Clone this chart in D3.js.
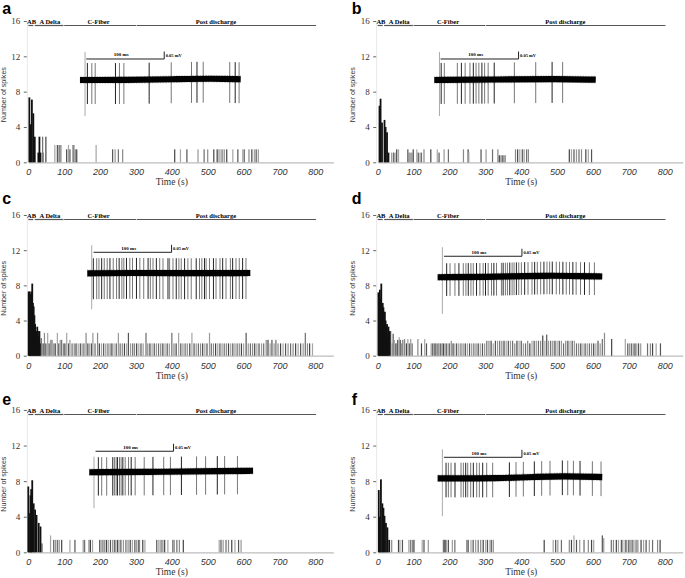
<!DOCTYPE html>
<html>
<head>
<meta charset="utf-8">
<script src="https://cdn.jsdelivr.net/npm/d3@7"></script>
<style>
  body { margin: 0; background: #fff; }
  svg { display: block; }
</style>
</head>
<body>
<svg id="chart" width="685" height="578"></svg>
<script>
// histogram axes
const xTicks = [0, 100, 200, 300, 400, 500, 600, 700, 800]
const yTicks = [0, 4, 8, 12, 16]

// fibre response windows (s)
const fiberNames = ['AB', 'A Delta', 'C-Fiber', 'Post discharge']
const fiberSpans = [[0, 14], [18, 98], [100, 300], [302, 802]]
const fiberLabelAt = [9, 60, 196, 523]

// spike counts per bin: [time s, spikes]
const barsA = [[3,7.35],[6,4.3],[10,7.1],[14,5.55],[18,2.9],[28,1.1],[31,2.9],[34,1.1],[40,2.9],[42,1.1],[49,2.9],
  [74,1.96],[81,1.96],[85,1.96],[88,1.96],[91,1.96],[107,1.47],[112,1.96],[116,1.47],[124,1.96],[127,1.96],[131,1.47],[135,1.47],
  [189,1.96],[235,1.47],[242,1.47],[251,1.47],[263,1.47],[408,1.47],[424,1.47],[442,1.47],[473,1.47],[490,1.47],[500,1.47],
  [517,1.47],[525,1.47],[528,1.47],[534,1.47],[540,1.47],[546,1.47],[553,1.47],[570,1.47],[584,1.47],[598,1.47],[602,1.47],
  [615,1.47],[623,1.47],[630,1.47],[635,1.47],[641,1.47]]

const barsB = [[5,6.4],[8,7.2],[12,4.5],[19,4.8],[22,4.0],[26,3.4],[30,1.1],[39,1.1],[44,1.1],[48,1.1],[53,1.47],[58,1.47],
  [84,1.47],[86,1.1],[90,1.1],[95,1.1],[99,1.47],[109,1.47],[113,1.1],[118,1.1],[122,1.1],[129,1.47],[148,1.47],[166,1.47],
  [171,1.1],[185,1.47],[197,1.47],[239,1.47],[252,1.47],[254,1.1],[288,1.47],[302,1.47],[320,1.47],[335,1.47],[339,0.8],
  [343,0.8],[347,0.8],[351,0.8],[355,0.8],[384,1.47],[390,1.47],[396,1.47],[403,1.47],[408,1.47],[415,1.47],[420,1.47],
  [534,1.47],[540,1.47],[547,1.47],[554,1.47],[561,1.47],[568,1.47],[580,1.47],[587,1.47],[596,1.47]]

const barsC = [[1,7.3],[2,6.8],[4,7.3],[6,7.0],[7,6.3],[9,7.3],[11,8.2],[13,6.0],[15,5.6],[17,4.6],[19,3.6],[21,2.6],[23,2.8],
  [25,3.3],[27,2.8],[29,2.2],[31,2.8],[33,1.4],[36,2.0],[39,1.4],[42,1.4],[45,2.6],[49,1.4],[54,2.6],[58,1.4],[62,1.8],[66,1.8],
  [71,1.4],[75,1.4],[81,2.6],[85,1.4],[89,1.8],[93,1.8],[98,1.4],[102,1.4],[107,2.6],[112,1.4],[116,1.8],[122,1.4],[128,1.4],
  [133,1.4],[139,1.4],[145,1.4],[150,1.4],[155,1.4],[161,2.6],[166,1.4],[171,1.4],[176,1.4],[180,2.6],[186,1.4],[193,2.6],
  [198,1.4],[204,1.4],[210,1.4],[216,1.4],[222,1.4],[228,1.4],[233,1.4],[239,1.4],[245,1.4],[251,2.6],[256,1.4],[262,1.4],
  [268,1.4],[274,1.4],[279,2.6],[285,1.4],[291,1.4],[296,1.4],[302,1.4],[308,1.4],[314,1.4],[320,1.4],[328,2.6],[333,1.4],
  [339,1.4],[345,1.4],[351,1.4],[357,1.4],[363,1.4],[369,1.4],[375,1.4],[381,1.4],[387,1.4],[393,1.4],[400,2.6],[406,1.4],
  [412,1.4],[419,2.6],[425,1.4],[431,1.4],[437,1.4],[443,1.4],[450,1.4],[456,2.6],[462,1.4],[468,1.4],[474,1.4],[480,1.4],
  [486,1.4],[492,1.4],[498,1.4],[505,2.6],[510,1.4],[516,1.4],[522,1.4],[528,1.4],[534,1.4],[540,1.4],[546,1.4],[552,1.4],
  [558,1.4],[564,1.4],[570,1.4],[576,1.4],[582,1.4],[588,1.4],[594,1.4],[600,1.4],[607,2.6],[613,1.4],[619,1.4],[625,1.4],
  [631,1.4],[637,1.4],[643,1.4],[650,1.4],[656,1.4],[663,1.8],[668,1.8],[674,1.4],[679,1.8],[685,1.4],[690,1.8],[696,1.4],
  [703,1.4],[710,1.4],[717,1.4],[724,1.4],[731,1.4],[738,1.4],[745,1.4],[752,1.4],[759,1.4],[766,1.4],[772,2.6],[778,1.4],
  [784,1.4],[792,1.4]]

const barsD = [[2,7.2],[4,6.8],[6,7.5],[8,6.5],[10,8.2],[12,5.0],[14,6.0],[16,5.5],[18,4.2],[20,5.0],[22,4.0],[24,3.3],
  [26,3.6],[28,2.4],[30,3.3],[33,2.8],[36,2.8],[40,1.4],[43,2.5],[46,1.8],[50,1.4],[53,1.4],[56,1.8],[60,2.1],[63,1.8],
  [66,1.4],[70,1.8],[75,1.9],[80,1.4],[84,1.9],[88,1.4],[92,1.9],[96,1.4],[112,1.9],[122,1.4],[131,1.9],[136,1.4],[149,1.4],
  [153,1.4],[157,1.4],[160,1.4],[164,1.4],[168,1.4],[171,1.4],[175,1.4],[179,1.4],[183,1.4],[187,1.4],[191,1.4],[196,1.4],
  [200,1.4],[205,1.7],[210,1.4],[215,1.4],[220,1.4],[226,1.4],[232,1.4],[238,1.4],[244,1.4],[250,1.4],[256,1.4],[262,1.4],
  [268,1.4],[274,1.4],[280,1.4],[286,1.4],[292,1.4],[298,1.4],[304,1.7],[310,1.7],[316,1.7],[322,1.4],[328,1.7],[334,1.7],
  [340,1.7],[346,1.7],[352,1.7],[358,1.7],[364,1.7],[370,1.7],[376,1.7],[382,1.4],[388,1.7],[394,1.7],[400,1.7],[406,1.4],
  [412,1.4],[418,1.7],[424,1.4],[430,1.7],[436,1.7],[442,1.7],[448,1.7],[454,1.7],[460,2.3],[466,1.7],[471,2.4],[476,1.7],
  [482,1.7],[488,1.7],[494,1.7],[500,1.7],[506,1.7],[512,1.7],[518,1.4],[524,1.7],[530,1.7],[536,1.7],[542,1.7],[548,1.7],
  [554,1.4],[560,1.4],[566,1.4],[572,1.4],[578,1.4],[584,1.4],[590,1.4],[596,1.4],[602,1.4],[608,1.4],[614,1.7],[620,1.4],
  [626,1.9],[632,2.6],[652,1.9],[690,1.9],[697,1.4],[702,1.4],[707,1.4],[712,1.4],[717,1.4],[722,1.4],[727,1.4],[733,1.4],
  [752,1.4],[760,1.4],[766,1.4],[776,1.4],[788,1.4]]

const barsE = [[0,7.4],[2,4.4],[6,6.4],[8,7.1],[11,8.1],[15,5.5],[19,4.8],[23,4.2],[29,3.3],[34,2.9],[38,1.0],[62,1.9],
  [71,1.4],[76,1.4],[81,1.4],[86,1.4],[93,1.4],[116,1.4],[130,1.4],[153,1.4],[157,1.4],[169,1.4],[173,1.4],[179,1.4],
  [199,1.4],[203,1.4],[208,1.4],[213,1.4],[218,1.4],[223,1.4],[229,1.4],[235,1.4],[240,1.4],[244,1.4],[249,1.4],[253,1.4],
  [258,1.4],[265,1.4],[272,1.4],[278,1.4],[284,1.4],[290,1.4],[297,1.4],[302,1.4],[307,1.4],[310,1.4],[319,1.4],[325,1.4],
  [358,1.4],[364,1.4],[370,1.4],[375,1.4],[380,1.4],[389,1.4],[403,1.4],[407,1.4],[414,1.4],[421,1.4],[432,1.4],
  [532,1.4],[537,1.4],[543,1.4],[551,1.4],[558,1.4],[567,1.4],[576,1.4],[586,1.4],[593,1.4]]

const barsF = [[3,7.0],[6,4.0],[9,8.2],[13,5.5],[16,5.0],[19,4.1],[23,3.3],[27,2.8],[32,1.4],[39,1.4],[58,1.4],[62,1.4],
  [69,1.4],[87,1.4],[92,1.4],[97,1.4],[101,1.4],[124,1.4],[129,1.4],[141,1.4],[183,1.4],[186,1.4],[188,1.4],[192,1.4],
  [197,1.4],[208,1.4],[215,1.4],[248,1.4],[252,1.4],[260,1.4],[266,1.4],[273,1.4],[280,1.4],[287,1.4],[294,1.4],[301,1.4],
  [306,1.4],[313,1.4],[317,1.4],[322,1.4],[464,1.4],[489,1.4],[496,1.4],[502,1.4],[512,1.4],[534,1.4],[540,1.4],[547,1.9],
  [554,1.4],[563,1.4],[575,1.4],[587,1.4],[596,1.4],[602,1.4],[626,1.9],[630,1.6],[651,1.4],[657,1.4],[665,1.4],[671,1.4],
  [679,1.4],[683,1.4],[690,1.4],[694,1.4],[700,1.4],[704,1.4],[709,1.4],[714,1.4],[720,1.4],[725,1.4],[734,1.4],[741,1.4],
  [748,1.4],[757,1.4],[766,1.4],[780,1.4],[787,1.4]]

// inset recordings: spike times (ms)
const spikesA = [6.5, 9.5, 15.2, 19.5, 45.5, 50.6, 56.3, 88.7, 117, 143, 150, 158, 192, 199, 204]
const spikesB = [6.6, 8.8, 12.8, 29.5, 34.7, 39.5, 45.7, 50, 53.5, 57.1, 61, 64.5, 69, 76.8, 102.6, 130, 151, 164.5]
const spikesC = [5.6, 7.7, 12, 14.9, 18.4, 21.7, 25.5, 29, 33.2, 37.5, 40.8, 44.3, 46.8, 50.2, 54.5, 57.9, 63, 67.3, 72.3,
  77.9, 80.8, 84.2, 88.5, 92.8, 97, 103.4, 105.5, 109.8, 114, 117.4, 120.4, 124.7, 128.9, 133.2, 139.6, 143.8, 146.8, 150.2,
  152.3, 156.6, 161.7, 165, 170.1, 173.5, 177.8, 183.4, 186.3, 190.6, 194.8, 199.1, 203.4]
const spikesD = [6.0, 11.5, 15.8, 22.1, 27.2, 32.8, 36.2, 39.2, 42.6, 45.6, 49.8, 54.1, 58.3, 61.3, 64.7, 69, 72, 75.4,
  81.7, 83.9, 86.8, 89.4, 92.4, 95.4, 97.9, 100.9, 103.9, 107.3, 111.5, 115.8, 120.9, 124.3, 127.7, 132, 136.2, 140.1,
  143.5, 146.9, 152, 156.2, 160.5, 164.8, 169, 173.3, 177.5, 183.1, 188.2, 194.5, 200.9]
const spikesE = [6.0, 11.6, 15.9, 22.3, 30.1, 32.2, 34.4, 36.1, 38.7, 40.8, 43, 46, 50.3, 53.7, 58.8, 70.4, 81.6, 95.4,
  104, 118.1, 137.5, 149.1, 164.1, 173.5, 189.9]
const spikesF = [6.0, 10.7, 13.7, 17.1, 22.2, 29.9, 32.9, 35.9, 38.5, 42.3, 45.7, 50, 53.4, 57.7, 62.8, 70.5, 91.9, 100.4,
  109.8, 123.9, 133.3, 144, 159.8, 166.7, 174, 182.5, 198.3, 209.4]

// inset baseline drift: [ms, mV]
const baseA = [[0, 0], [60, 0], [120, 0.005], [170, 0.01], [206, 0.005]]
const baseB = [[0, 0], [80, 0.003], [160, 0.008], [207, 0.002]]
const baseC = [[0, 0], [60, 0.003], [120, 0], [209, 0.002]]
const baseD = [[0, 0], [80, 0.003], [140, 0.012], [180, 0.008], [211, 0.005]]
const baseE = [[0, 0], [100, 0.003], [170, 0.008], [210, 0.01]]
const baseF = [[0, 0], [80, 0], [130, 0.01], [160, 0.015], [211, 0.008]]

// spike amplitude (mV): [up, down, first up, first down]
const ampA = [0.113, 0.16, 0.187, 0.24]
const ampB = [0.113, 0.16, 0.187, 0.24]
const ampC = [0.1, 0.173, 0.187, 0.24]
const ampD = [0.093, 0.125, 0.2, 0.245]
const ampE = [0.1, 0.156, 0.104, 0.24]
const ampF = [0.104, 0.127, 0.193, 0.253]

const panels = [
  { id: 'a', x0: 28.3, top: 21, bottom: 162.3, letterY: 14, bars: barsA, spikes: spikesA, base: baseA, amp: ampA, inset: [144, 9.32] },
  { id: 'b', x0: 377.7, top: 21, bottom: 162.3, letterY: 14, bars: barsB, spikes: spikesB, base: baseB, amp: ampB, inset: [157.8, 9.32] },
  { id: 'c', x0: 28.3, top: 215, bottom: 355.7, letterY: 204, bars: barsC, spikes: spikesC, base: baseC, amp: ampC, inset: [164.5, 9.37] },
  { id: 'd', x0: 377.7, top: 215, bottom: 355.7, letterY: 203.5, bars: barsD, spikes: spikesD, base: baseD, amp: ampD, inset: [167.2, 8.92] },
  { id: 'e', x0: 28.3, top: 410, bottom: 552.3, letterY: 405, bars: barsE, spikes: spikesE, base: baseE, amp: ampE, inset: [170, 9.0] },
  { id: 'f', x0: 377.7, top: 410, bottom: 552.3, letterY: 405, bars: barsF, spikes: spikesF, base: baseF, amp: ampF, inset: [167.2, 8.32] }
]

const barShade = ['#555', '#999', '#6e6e6e', '#8a8a8a', '#444', '#a5a5a5']
const serif = '"Liberation Serif", "Times New Roman", serif'
const sans = '"Liberation Sans", Arial, sans-serif'
const svg = d3.select('#chart')

function drawPanel(p) {
  const g = svg.append('g').attr('class', 'panel-' + p.id)
  const x = d3.scaleLinear().domain([0, 850]).range([p.x0, p.x0 + 305])
  const y = d3.scaleLinear().domain([0, 16]).range([p.bottom, p.top])

  g.append('text')
    .attr('x', p.x0 - 26).attr('y', p.letterY)
    .style('font', 'bold 16px ' + sans)
    .text(p.id)

  // axes
  const xAxis = g.append('g')
    .attr('transform', `translate(0,${p.bottom})`)
    .call(d3.axisBottom(x).tickValues(xTicks).tickSize(0).tickPadding(6.5))
  xAxis.select('.domain').attr('stroke', '#bdbdbd').attr('stroke-width', 1.3)
  xAxis.selectAll('text').style('font', 'italic 9px ' + sans).attr('fill', '#333')

  const yAxis = g.append('g')
    .attr('transform', `translate(${p.x0 - 1.5},0)`)
    .call(d3.axisLeft(y).tickValues(yTicks).tickSize(3).tickSizeOuter(0).tickPadding(3.5))
  yAxis.select('.domain').attr('stroke', '#e8e8e8')
  yAxis.selectAll('.tick line').attr('stroke', '#666')
  yAxis.selectAll('text').style('font', '9px ' + serif).attr('fill', '#333')

  g.append('text')
    .attr('x', x(400)).attr('y', p.bottom + 23)
    .attr('text-anchor', 'middle')
    .style('font', '9.5px ' + serif).attr('fill', '#333')
    .text('Time (s)')

  g.append('text')
    .attr('transform', `translate(${p.x0 - 22.5},${(p.top + p.bottom) / 2 + 3}) rotate(-90)`)
    .attr('text-anchor', 'middle')
    .attr('textLength', 55).attr('lengthAdjust', 'spacingAndGlyphs')
    .style('font', '8px ' + sans).attr('fill', '#333')
    .text('Number of spikes')

  // fibre windows along the top
  const rowY = y(16) + 4.5
  fiberSpans.forEach((s, i) => {
    g.append('line')
      .attr('x1', x(s[0])).attr('x2', x(s[1]))
      .attr('y1', rowY).attr('y2', rowY)
      .attr('stroke', '#555').attr('stroke-width', 1.2)
    g.append('text')
      .attr('x', x(fiberLabelAt[i])).attr('y', rowY - 1.3)
      .attr('text-anchor', 'middle')
      .style('font', 'bold 6.5px ' + serif)
      .text(fiberNames[i])
  })

  // histogram bars
  g.append('g').selectAll('rect')
    .data(p.bars)
    .join('rect')
    .attr('x', d => x(d[0]) - (d[0] < 35 ? 0.9 : 0.6))
    .attr('width', d => d[0] < 35 ? 1.8 : 1.2)
    .attr('y', d => y(d[1]))
    .attr('height', d => p.bottom - y(d[1]))
    .attr('fill', (d, i) => d[0] < 35 ? '#111' : barShade[i % barShade.length])

  drawInset(g, p, x(p.inset[0]), y(p.inset[1]))
}

function drawInset(g, p, sx, sy) {
  const ix = d3.scaleLinear().domain([0, 100]).range([sx, sx + 78])
  const iy = d3.scaleLinear().domain([0, 0.1]).range([sy, sy - 15])
  const drift = d3.scaleLinear().domain(p.base.map(d => d[0])).range(p.base.map(d => d[1]))
  const [up, down, up0, down0] = p.amp

  g.append('g').selectAll('line')
    .data(p.spikes)
    .join('line')
    .attr('x1', d => ix(d)).attr('x2', d => ix(d))
    .attr('y1', (d, i) => iy(drift(d) + (i === 0 ? up0 : up)))
    .attr('y2', (d, i) => iy(drift(d) - (i === 0 ? down0 : down)))
    .attr('stroke', (d, i) => i === 0 ? '#aaa' : (i % 3 === 1 ? '#222' : '#777'))
    .attr('stroke-width', 1)

  const trace = d3.line().x(d => ix(d[0])).y(d => iy(d[1])).curve(d3.curveBasis)
  g.append('path').attr('d', trace(p.base))
    .attr('fill', 'none').attr('stroke', '#000').attr('stroke-width', 7.6)
    .attr('stroke-dasharray', '0.5 1.1').attr('opacity', 0.45)
  g.append('path').attr('d', trace(p.base))
    .attr('fill', 'none').attr('stroke', '#000').attr('stroke-width', 6.2)

  // scale bar: 100 ms x 0.05 mV
  const barY = iy(0.14)
  g.append('path')
    .attr('d', `M${ix(8)},${barY}H${ix(108)}V${iy(0.19)}`)
    .attr('fill', 'none').attr('stroke', '#222').attr('stroke-width', 1)
  g.append('text')
    .attr('x', ix(53)).attr('y', barY - 2.5)
    .attr('text-anchor', 'middle')
    .style('font', 'bold 5px ' + serif)
    .text('100 ms')
  g.append('text')
    .attr('x', ix(108) + 1.5).attr('y', barY - 2.2)
    .style('font', 'bold 4.5px ' + serif)
    .text('0.05 mV')
}

panels.forEach(drawPanel)
</script>
</body>
</html>
